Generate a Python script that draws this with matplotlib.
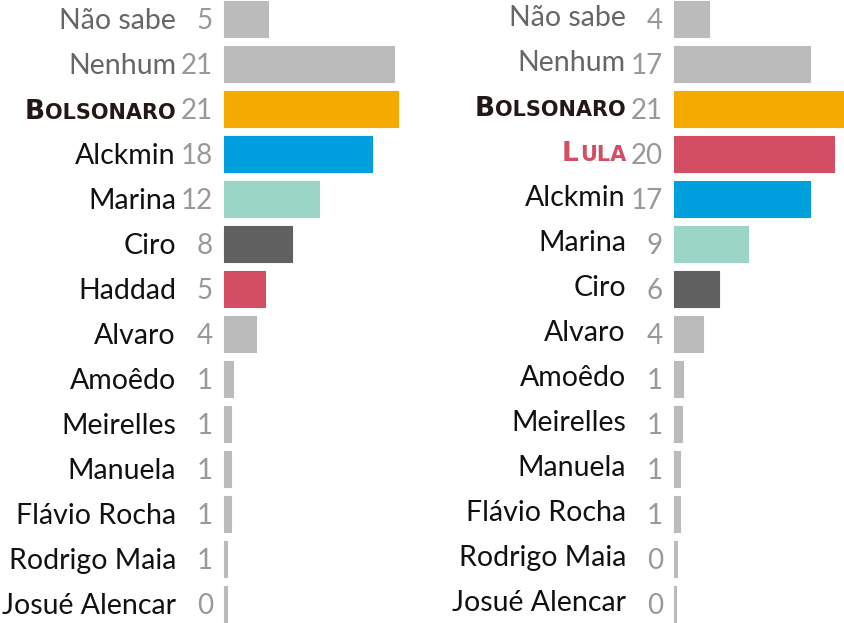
import matplotlib
matplotlib.use("Agg")
import matplotlib.pyplot as plt

# painel esquerdo (com Haddad)
left_names = ["Não sabe", "Nenhum", "Bolsonaro", "Alckmin", "Marina", "Ciro", "Haddad",
              "Alvaro", "Amoêdo", "Meirelles", "Manuela", "Flávio Rocha", "Rodrigo Maia",
              "Josué Alencar"]
left_values = [5.4, 20.9, 21.4, 18.2, 11.7, 8.4, 5.0, 3.9, 1.1, 0.9, 0.9, 0.8, 0.4, 0.35]
left_labels = ["5", "21", "21", "18", "12", "8", "5", "4", "1", "1", "1", "1", "1", "0"]

# painel direito (com Lula)
right_names = ["Não sabe", "Nenhum", "Bolsonaro", "Lula", "Alckmin", "Marina", "Ciro",
               "Alvaro", "Amoêdo", "Meirelles", "Manuela", "Flávio Rocha", "Rodrigo Maia",
               "Josué Alencar"]
right_values = [4.4, 17.2, 21.3, 20.2, 17.2, 9.3, 5.7, 3.6, 1.1, 1.0, 0.8, 0.8, 0.4, 0.25]
right_labels = ["4", "17", "21", "20", "17", "9", "6", "4", "1", "1", "1", "1", "0", "0"]

GRAY = "#bbbbbb"
colors = {
    "Bolsonaro": "#f5aa00",
    "Alckmin": "#009fdd",
    "Marina": "#9ad5c6",
    "Ciro": "#616161",
    "Haddad": "#d34e62",
    "Lula": "#d34e62",
}
special = {"Bolsonaro": "#231815", "Lula": "#d34e62"}
muted = ["Não sabe", "Nenhum"]

FONT = "Lato"
W, H = 844, 623
fig = plt.figure(figsize=(W / 100, H / 100), dpi=100)


def draw_panel(x0, scale, xmax, names, values, labels, name_dy):
    ax = fig.add_axes([x0 / W, 0, xmax * scale / W, 1])
    n = len(names)
    rows = list(range(n))
    cols = [colors.get(nm, GRAY) for nm in names]
    ax.barh(rows, values, height=0.8, color=cols, edgecolor=cols, linewidth=0.8,
            joinstyle="round", clip_on=False)
    ax.set_xlim(0, xmax)
    # 45 px por linha, centro da primeira em y=19 px
    ax.set_ylim((H - 19) / 45, -19 / 45)
    ax.axis("off")

    for i, (nm, lab) in enumerate(zip(names, labels)):
        ax.annotate(lab, (0, i), xytext=(-11, -10), textcoords="offset pixels",
                    ha="right", va="baseline", fontsize=20, family=FONT,
                    color="#999999")
        if nm in special:
            # versalete feito à mão: inicial grande + resto em maiúsculas menores
            c = special[nm]
            rest = ax.annotate(nm[1:].upper(), (0, i), xytext=(-48, -name_dy),
                               textcoords="offset pixels", ha="right", va="baseline",
                               fontsize=15, family="DejaVu Sans", weight="bold", color=c)
            fig.canvas.draw()
            wpx = rest.get_window_extent().width
            ax.annotate(nm[0], (0, i), xytext=(-48 - wpx - 1, -name_dy),
                        textcoords="offset pixels", ha="right", va="baseline",
                        fontsize=19, family="DejaVu Sans", weight="bold", color=c)
        else:
            ax.annotate(nm, (0, i), xytext=(-48, -name_dy), textcoords="offset pixels",
                        ha="right", va="baseline", fontsize=20.5, family=FONT,
                        color="#666666" if nm in muted else "#111111")
    return ax


draw_panel(224, 8.13, 22.0, left_names, left_values, left_labels, 10)
draw_panel(674, 7.93, 21.3, right_names, right_values, right_labels, 7)

fig.savefig("out.png", dpi=100, facecolor="white")
